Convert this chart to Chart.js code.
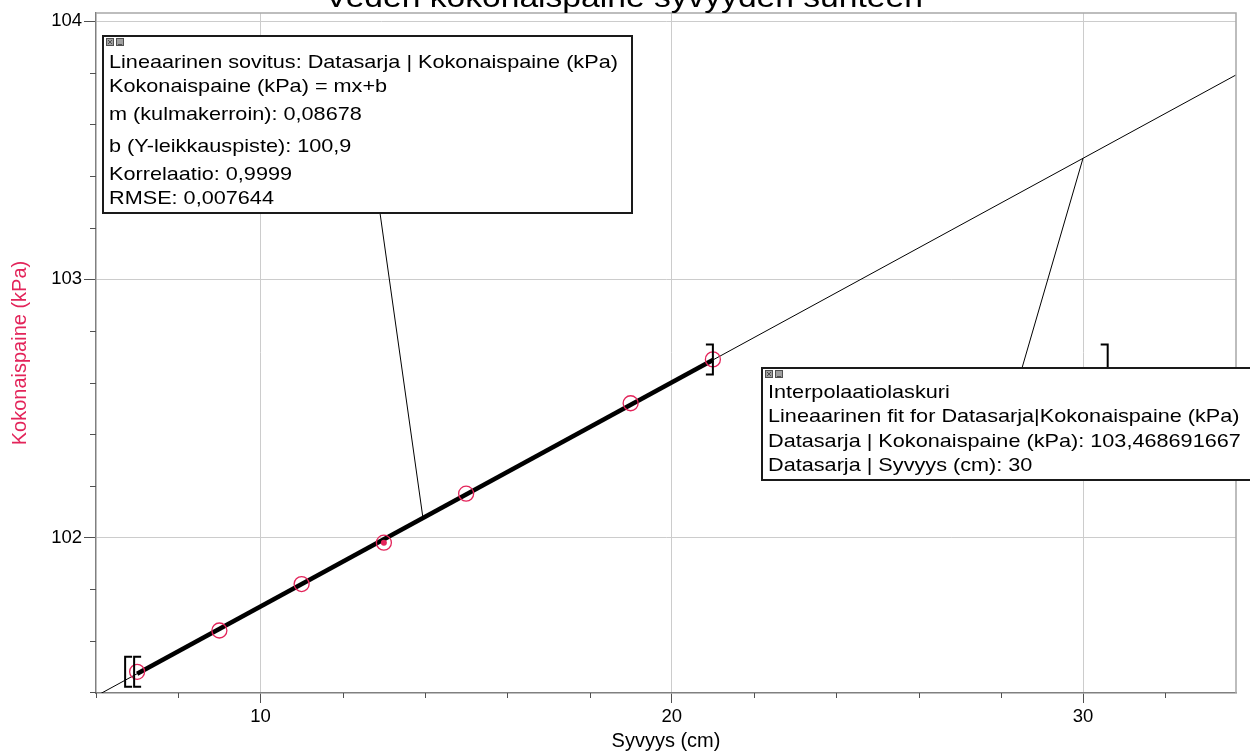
<!DOCTYPE html>
<html>
<head>
<meta charset="utf-8">
<script src="https://cdn.jsdelivr.net/npm/chart.js@4.4.1/dist/chart.umd.min.js"></script>
<style>
  html, body { margin: 0; padding: 0; background: #ffffff; }
  #wrap { width: 1250px; height: 753px; position: relative; }
</style>
</head>
<body>
<div id="wrap"><canvas id="c"></canvas></div>
<script>
// ---- data ----
const titleText = 'Veden kokonaispaine syvyyden suhteen';
const xTitle = 'Syvyys (cm)';
const yTitle = 'Kokonaispaine (kPa)';
const depth = [7, 9, 11, 13, 15, 19, 21];
const pressure = [101.48, 101.64, 101.82, 101.98, 102.17, 102.52, 102.69];
const selectedIndex = 3;
const xMajorTicks = [10, 20, 30];
const xMinorTicks = [6, 8, 12, 14, 16, 18, 22, 24, 26, 28, 32];
const yMajorTicks = [102, 103, 104];
const yMinorTicks = [101.4, 101.6, 101.8, 102.2, 102.4, 102.6, 102.8, 103.2, 103.4, 103.6, 103.8];
const fitSlope = 0.08678;
const fitIntercept = 100.8653;
const fitFullRange = [6, 33.72];
const fitDataRange = [7, 21];
const fitLeaderDepth = 13.95;
const interpDepth = 30;
const interpPressure = 103.468691667;
const extraBracketDepth = 30.6;
const fitBoxLines = [
  'Lineaarinen sovitus: Datasarja | Kokonaispaine (kPa)',
  'Kokonaispaine (kPa) = mx+b',
  'm (kulmakerroin): 0,08678',
  'b (Y-leikkauspiste): 100,9',
  'Korrelaatio: 0,9999',
  'RMSE: 0,007644'
];
const interpBoxLines = [
  'Interpolaatiolaskuri',
  'Lineaarinen fit for Datasarja|Kokonaispaine (kPa)',
  'Datasarja | Kokonaispaine (kPa): 103,468691667',
  'Datasarja | Syvyys (cm): 30'
];

const fitY = x => fitSlope * x + fitIntercept;
const fullLine = fitFullRange.map(x => ({ x: x, y: fitY(x) }));
const dataLine = fitDataRange.map(x => ({ x: x, y: fitY(x) }));
const points = depth.map((d, i) => ({ x: d, y: pressure[i] }));
const selectedPoint = [points[selectedIndex]];

const FONT = "'Liberation Sans', Arial, sans-serif";
const RED = '#e3245a';

function stretchedText(ctx, text, x, y, sx) {
  ctx.save();
  ctx.translate(x, y);
  ctx.scale(sx, 1);
  ctx.fillText(text, 0, 0);
  ctx.restore();
}

function drawIcons(ctx, bx, by) {
  ctx.save();
  [0, 10].forEach((dx, k) => {
    ctx.fillStyle = '#a0a0a0';
    ctx.fillRect(bx + 3 + dx, by + 2, 8, 8);
    ctx.strokeStyle = '#505050';
    ctx.lineWidth = 1;
    ctx.strokeRect(bx + 3.5 + dx, by + 2.5, 7, 7);
    ctx.beginPath();
    if (k === 0) {
      ctx.moveTo(bx + 5 + dx, by + 4); ctx.lineTo(bx + 9 + dx, by + 8);
      ctx.moveTo(bx + 9 + dx, by + 4); ctx.lineTo(bx + 5 + dx, by + 8);
    } else {
      ctx.moveTo(bx + 5 + dx, by + 8.5); ctx.lineTo(bx + 9 + dx, by + 8.5);
    }
    ctx.stroke();
  });
  ctx.restore();
}

function drawBox(ctx, x, y, w, h, lines, offsets) {
  ctx.save();
  ctx.fillStyle = '#ffffff';
  ctx.fillRect(x, y, w, h);
  ctx.strokeStyle = '#1a1a1a';
  ctx.lineWidth = 2;
  ctx.strokeRect(x, y, w, h);
  drawIcons(ctx, x, y);
  ctx.fillStyle = '#000000';
  ctx.font = '19px ' + FONT;
  ctx.textBaseline = 'middle';
  ctx.textAlign = 'left';
  lines.forEach((t, i) => stretchedText(ctx, t, x + 6, y + offsets[i], 1.14));
  ctx.restore();
}

function bracket(ctx, px, py, dir) {
  // dir = -1 -> '[' ; dir = 1 -> ']'
  ctx.beginPath();
  ctx.moveTo(px - dir * 7, py - 15);
  ctx.lineTo(px, py - 15);
  ctx.lineTo(px, py + 15);
  ctx.lineTo(px - dir * 7, py + 15);
  ctx.stroke();
}

const decorPlugin = {
  id: 'decor',
  afterDraw(chart) {
    const { ctx, chartArea: a, scales: { x, y } } = chart;
    ctx.save();
    // frame (top and right)
    ctx.strokeStyle = '#a8a8a8';
    ctx.lineWidth = 1.5;
    ctx.beginPath();
    ctx.moveTo(a.left, a.top); ctx.lineTo(a.right, a.top); ctx.lineTo(a.right, a.bottom);
    ctx.stroke();
    // minor ticks
    ctx.strokeStyle = '#505050';
    ctx.lineWidth = 1;
    ctx.beginPath();
    yMinorTicks.forEach(v => {
      const py = Math.round(y.getPixelForValue(v)) + 0.5;
      ctx.moveTo(a.left - 6, py); ctx.lineTo(a.left, py);
    });
    xMinorTicks.forEach(v => {
      const px = Math.round(x.getPixelForValue(v)) + 0.5;
      ctx.moveTo(px, a.bottom); ctx.lineTo(px, a.bottom + 5);
    });
    ctx.stroke();

    // brackets
    ctx.strokeStyle = '#000';
    ctx.lineWidth = 2;
    const bx0 = x.getPixelForValue(fitDataRange[0]);
    const by0 = y.getPixelForValue(pressure[0]);
    bracket(ctx, bx0 - 12, by0, -1);
    bracket(ctx, bx0 - 3, by0, -1);
    const bx1 = x.getPixelForValue(fitDataRange[1]);
    const by1 = y.getPixelForValue(pressure[pressure.length - 1]);
    bracket(ctx, bx1, by1, 1);
    bracket(ctx, x.getPixelForValue(extraBracketDepth), by1, 1);

    // leader lines
    ctx.strokeStyle = '#000';
    ctx.lineWidth = 1;
    ctx.beginPath();
    ctx.moveTo(380, 213);
    ctx.lineTo(x.getPixelForValue(fitLeaderDepth), y.getPixelForValue(fitY(fitLeaderDepth)));
    ctx.moveTo(1022, 368);
    ctx.lineTo(x.getPixelForValue(interpDepth), y.getPixelForValue(interpPressure));
    ctx.stroke();

    // boxes
    drawBox(ctx, 103, 36, 529, 177, fitBoxLines, [27, 51, 79, 111, 139, 163]);
    drawBox(ctx, 762, 368, 500, 112, interpBoxLines, [25, 49, 74, 98]);

    // title (mostly cut off at the top)
    ctx.fillStyle = '#000';
    ctx.font = '30px ' + FONT;
    ctx.textAlign = 'center';
    ctx.textBaseline = 'alphabetic';
    stretchedText(ctx, titleText, 624, 7, 1.12);
    ctx.restore();
  }
};

new Chart(document.getElementById('c'), {
  type: 'scatter',
  data: {
    datasets: [
      {
        data: fullLine, showLine: true, borderColor: '#000', borderWidth: 1,
        pointRadius: 0, order: 4
      },
      {
        data: dataLine, showLine: true, borderColor: '#000', borderWidth: 4.5,
        pointRadius: 0, order: 3
      },
      {
        data: points, showLine: false, borderColor: RED, borderWidth: 1.3,
        pointRadius: 7.5, pointHoverRadius: 7.5,
        backgroundColor: 'rgba(0,0,0,0)',
        order: 2
      },
      {
        data: selectedPoint, showLine: false, borderColor: RED, borderWidth: 0,
        pointRadius: 3, pointHoverRadius: 3, backgroundColor: RED,
        order: 1
      }
    ]
  },
  options: {
    responsive: true,
    maintainAspectRatio: false,
    devicePixelRatio: 1,
    animation: false,
    events: [],
    layout: { padding: { top: 11, right: 14, left: 0, bottom: 0 } },
    plugins: { legend: { display: false }, tooltip: { enabled: false }, title: { display: false } },
    scales: {
      x: {
        type: 'linear', min: fitFullRange[0], max: fitFullRange[1],
        afterBuildTicks: s => { s.ticks = xMajorTicks.map(v => ({ value: v })); },
        afterFit: s => { s.height = 60; },
        ticks: { color: '#000', font: { family: FONT, size: 18.5 }, padding: 3, callback: v => String(v), maxRotation: 0, autoSkip: false },
        grid: { color: '#cccccc', lineWidth: 1, tickColor: '#505050', tickLength: 10 },
        border: { display: true, color: '#808080', width: 1.5 },
        title: { display: true, text: xTitle, color: '#000', font: { family: FONT, size: 20 }, padding: { top: 0, bottom: 0 } }
      },
      y: {
        type: 'linear', min: 101.398, max: 104.031,
        afterBuildTicks: s => { s.ticks = yMajorTicks.map(v => ({ value: v })); },
        afterFit: s => { s.width = 96; },
        ticks: { color: '#000', font: { family: FONT, size: 18.5 }, padding: 2, callback: v => String(v), autoSkip: false },
        grid: { color: '#cccccc', lineWidth: 1, tickColor: '#505050', tickLength: 12 },
        border: { display: true, color: '#808080', width: 1.5 },
        title: { display: true, text: yTitle, color: RED, font: { family: FONT, size: 20 }, padding: { top: 8, bottom: 0 } }
      }
    }
  },
  plugins: [decorPlugin]
});
</script>
</body>
</html>
